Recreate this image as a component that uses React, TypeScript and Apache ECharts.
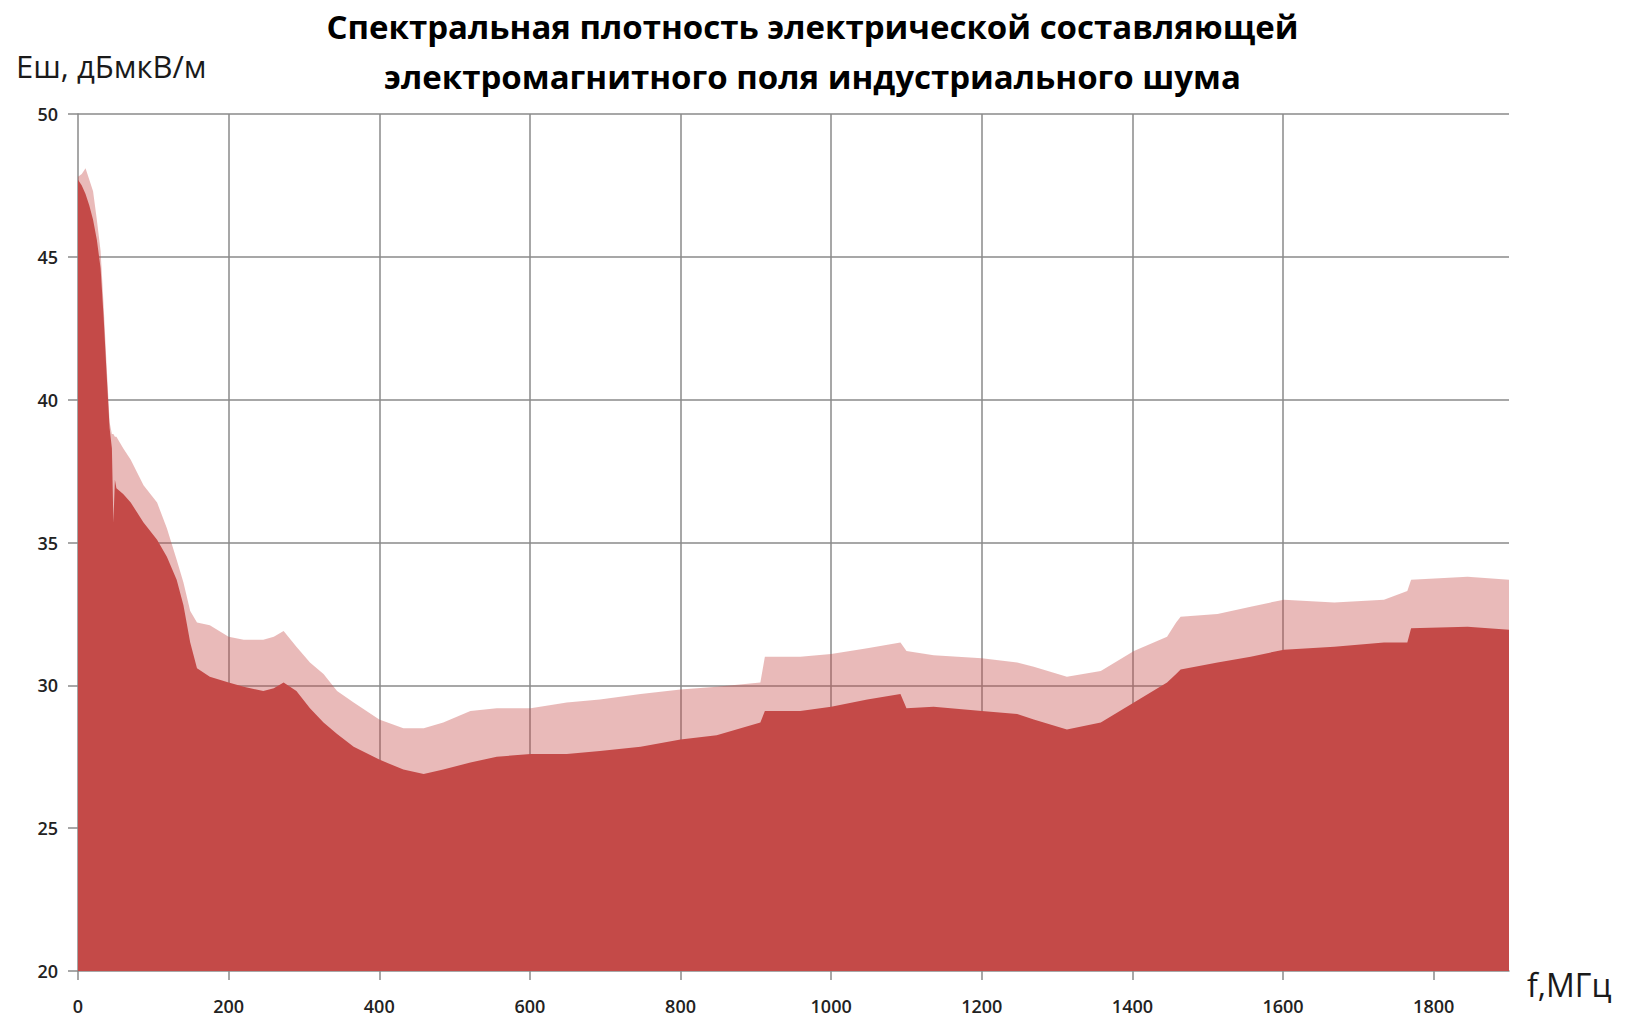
import React, { useEffect, useRef } from "react";
import * as echarts from "echarts";

// Frequency samples (MHz) at which the envelopes were read
const freq = [
  0, 5, 10, 15, 20, 25, 30, 34, 38, 42, 45, 47, 49, 51, 60, 70, 87, 105, 118, 131,
  140, 149, 158, 175, 200, 220, 246, 260, 273, 290, 308, 326, 344, 366, 400, 432,
  459, 485, 521, 556, 601, 649, 693, 747, 800, 848, 906, 912, 959, 1000, 1048,
  1092, 1100, 1136, 1200, 1247, 1269, 1313, 1358, 1402, 1446, 1458, 1464, 1513,
  1557, 1601, 1668, 1734, 1765, 1770, 1845, 1900,
];

// Solid (lower) envelope of the noise spectrum, dBµV/m
const lowerEnv = [
  47.7, 47.5, 47.2, 46.8, 46.3, 45.6, 44.6, 42.9, 40.9, 39.0, 38.3, 35.7, 37.2, 36.9,
  36.7, 36.4, 35.7, 35.1, 34.5, 33.7, 32.8, 31.5, 30.6, 30.3, 30.1, 29.95, 29.8, 29.9,
  30.1, 29.8, 29.2, 28.7, 28.3, 27.85, 27.4, 27.05, 26.9, 27.05, 27.3, 27.5, 27.6,
  27.6, 27.7, 27.85, 28.1, 28.25, 28.7, 29.1, 29.1, 29.25, 29.5, 29.7, 29.2, 29.25,
  29.1, 29.0, 28.8, 28.45, 28.7, 29.4, 30.1, 30.4, 30.55, 30.8, 31.0, 31.25, 31.35,
  31.5, 31.5, 32.0, 32.05, 31.95,
];

// Upper envelope (spike tops), dBµV/m
const upperEnv = [
  47.8, 47.9, 48.1, 47.7, 47.3, 46.3, 45.2, 43.3, 41.2, 39.2, 38.8, 38.8, 38.7, 38.7,
  38.3, 37.9, 37.0, 36.4, 35.5, 34.4, 33.6, 32.6, 32.2, 32.1, 31.7, 31.6, 31.6, 31.7,
  31.9, 31.35, 30.8, 30.4, 29.8, 29.4, 28.8, 28.5, 28.5, 28.7, 29.1, 29.2, 29.2,
  29.4, 29.5, 29.7, 29.85, 29.95, 30.1, 31.0, 31.0, 31.1, 31.3, 31.5, 31.2, 31.05,
  30.95, 30.8, 30.65, 30.3, 30.5, 31.2, 31.7, 32.2, 32.4, 32.5, 32.75, 33.0, 32.9,
  33.0, 33.3, 33.7, 33.8, 33.7,
];

const xTicks = [0, 200, 400, 600, 800, 1000, 1200, 1400, 1600, 1800];

const titleText =
  "Спектральная плотность электрической составляющей\nэлектромагнитного поля индустриального шума";
const yName = "Еш, дБмкВ/м";
const xName = "f,МГц";

const FONT = "Open Sans";
const GRID = "#8a8a8a";
const RED = "#C44A48";

export default function App() {
  const ref = useRef<HTMLDivElement>(null);

  useEffect(() => {
    document.body.style.margin = "0";
    if (!ref.current) return;
    const chart = echarts.init(ref.current, null, { renderer: "svg" });
    chart.setOption({
      animation: false,
      backgroundColor: "#ffffff",
      title: {
        text: titleText,
        left: "center",
        top: -4,
        textStyle: {
          fontFamily: FONT,
          fontWeight: "bold",
          fontSize: 33,
          lineHeight: 50,
          color: "#000",
        },
      },
      grid: { left: 78, right: 116, top: 114, bottom: 50, containLabel: false },
      xAxis: {
        type: "value",
        min: 0,
        max: 1900,
        interval: 200,
        axisLine: { show: true, lineStyle: { color: GRID, width: 1.5 } },
        axisTick: {
          show: true,
          length: 9,
          customValues: xTicks,
          lineStyle: { color: GRID, width: 1.5 },
        },
        axisLabel: {
          customValues: xTicks,
          formatter: (v: number) => String(v),
          margin: 26,
          fontFamily: FONT,
          fontSize: 18,
          fontWeight: 600,
          color: "#222",
        },
        splitLine: {
          show: true,
          showMaxLine: false,
          showMinLine: false,
          lineStyle: { color: GRID, width: 1.5 },
        },
      },
      yAxis: {
        type: "value",
        min: 20,
        max: 50,
        interval: 5,
        axisLine: { show: true, lineStyle: { color: GRID, width: 1.5 } },
        axisTick: { show: true, length: 10, lineStyle: { color: GRID, width: 1.5 } },
        axisLabel: {
          margin: 20,
          formatter: (v: number) => String(v),
          fontFamily: FONT,
          fontSize: 18,
          fontWeight: 600,
          color: "#222",
        },
        splitLine: {
          show: true,
          showMinLine: false,
          lineStyle: { color: GRID, width: 1.5 },
        },
      },
      graphic: [
        {
          type: "text",
          left: 16,
          top: 50,
          style: {
            text: yName,
            fontFamily: FONT,
            fontSize: 31,
            fill: "#1a1a1a",
          },
        },
        {
          type: "text",
          left: 1527,
          top: 968,
          style: {
            text: xName,
            fontFamily: FONT,
            fontSize: 32,
            fill: "#1a1a1a",
          },
        },
      ],
      series: [
        {
          name: "upper",
          type: "line",
          data: freq.map((f, i) => [f, upperEnv[i]]),
          showSymbol: false,
          symbol: "none",
          silent: true,
          lineStyle: { width: 0, opacity: 0 },
          areaStyle: { color: "rgba(196,74,72,0.38)", origin: "start", opacity: 1 },
          z: 2,
        },
        {
          name: "lower",
          type: "line",
          data: freq.map((f, i) => [f, lowerEnv[i]]),
          showSymbol: false,
          symbol: "none",
          silent: true,
          lineStyle: { width: 0, opacity: 0 },
          areaStyle: { color: RED, origin: "start", opacity: 1 },
          z: 3,
        },
      ],
    });
    return () => chart.dispose();
  }, []);

  return <div ref={ref} style={{ width: 1625, height: 1021 }} />;
}
